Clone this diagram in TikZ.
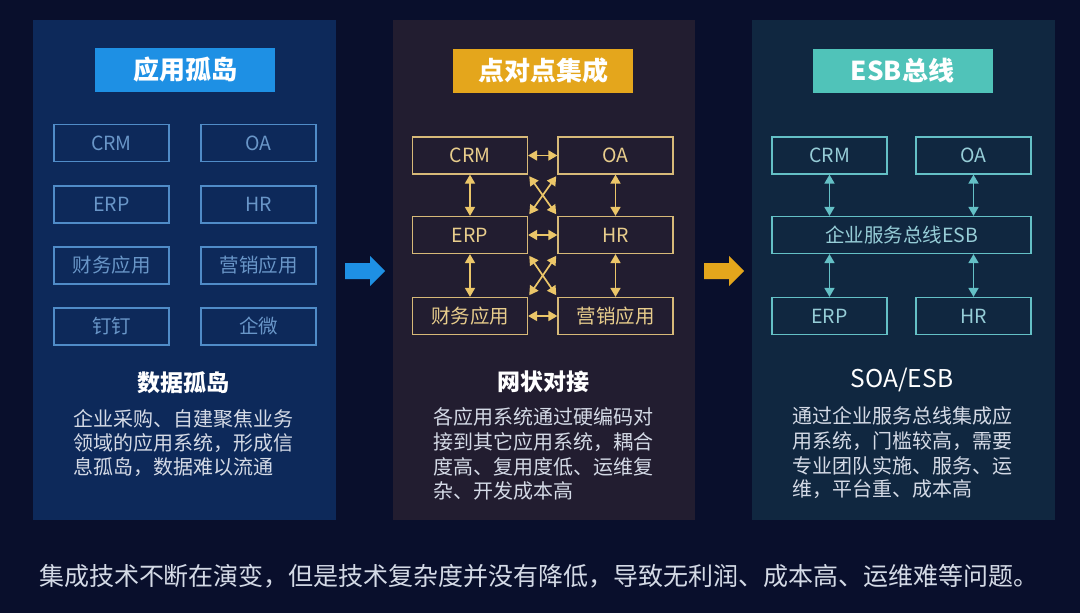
\documentclass[tikz,border=0pt]{standalone}
\usepackage{fontspec}
\setmainfont{Noto Sans CJK SC}
\usetikzlibrary{arrows.meta}
\definecolor{bg}{RGB}{9,15,44}
\definecolor{pone}{RGB}{13,41,90}
\definecolor{ptwo}{RGB}{34,29,48}
\definecolor{pthree}{RGB}{16,39,64}
\definecolor{tone}{RGB}{30,144,228}
\definecolor{ttwo}{RGB}{228,166,28}
\definecolor{tthree}{RGB}{80,195,185}
\definecolor{lone}{RGB}{80,140,200}
\definecolor{xone}{RGB}{105,150,200}
\definecolor{ltwo}{RGB}{215,185,120}
\definecolor{xtwo}{RGB}{232,205,140}
\definecolor{atwo}{RGB}{235,198,105}
\definecolor{lthree}{RGB}{100,192,198}
\definecolor{xthree}{RGB}{150,205,215}
\definecolor{para}{RGB}{212,218,230}
\begin{document}
\begin{tikzpicture}[x=1pt,y=-1pt,
  titlebox/.style={minimum width=180pt,minimum height=44pt,inner sep=0pt,text=white,font=\fontsize{26}{28}\selectfont\bfseries},
  appbox/.style={line width=1.2pt,minimum width=115pt,minimum height=37pt,inner sep=0pt,font=\fontsize{19.5}{21}\selectfont},
  appone/.style={appbox,draw=lone,text=xone},
  apptwo/.style={appbox,draw=ltwo,text=xtwo},
  appthree/.style={appbox,draw=lthree,text=xthree},
  subtitle/.style={text=white,font=\fontsize{23}{25}\selectfont\bfseries,inner sep=0pt},
  paraline/.style={text=para,anchor=west,inner sep=0pt,font=\fontsize{20}{22}\selectfont},
  dbl/.style={{Triangle[width=10pt,length=9pt]}-{Triangle[width=10pt,length=9pt]},line width=1.7pt}
]
\useasboundingbox (0,0) rectangle (1080,613);
\fill[bg] (0,0) rectangle (1080,613);
% panels
\fill[pone] (33,20) rectangle (336,520);
\fill[ptwo] (393,20) rectangle (695,520);
\fill[pthree] (752,20) rectangle (1055,520);
% title boxes
\node[titlebox,fill=tone] (t1) at (185,70) {应用孤岛};
\node[titlebox,fill=ttwo] (t2) at (543,71) {点对点集成};
\node[titlebox,fill=tthree] (t3) at (902.5,71) {ESB总线};
% panel 1 boxes
\node[appone] (a1) at (111.5,143) {CRM};
\node[appone] (a2) at (258.5,143) {OA};
\node[appone] (a3) at (111.5,204.5) {ERP};
\node[appone] (a4) at (258.5,204.5) {HR};
\node[appone] (a5) at (111.5,265.5) {财务应用};
\node[appone] (a6) at (258.5,265.5) {营销应用};
\node[appone] (a7) at (111.5,326.5) {钉钉};
\node[appone] (a8) at (258.5,326.5) {企微};
\node[subtitle] (s1) at (183,383) {数据孤岛};
\node[paraline] (p11) at (73,419) {企业采购、自建聚焦业务};
\node[paraline] (p12) at (73,443) {领域的应用系统，形成信};
\node[paraline] (p13) at (73,467) {息孤岛，数据难以流通};
% panel 2 boxes
\node[apptwo] (b1) at (470,155.5) {CRM};
\node[apptwo] (b2) at (615.5,155.5) {OA};
\node[apptwo] (b3) at (470,235) {ERP};
\node[apptwo] (b4) at (615.5,235) {HR};
\node[apptwo] (b5) at (470,316) {财务应用};
\node[apptwo] (b6) at (615.5,316) {营销应用};
\begin{scope}[draw=atwo,fill=atwo,dbl]
\draw (b1.east) -- (b2.west);
\draw (b3.east) -- (b4.west);
\draw (b5.east) -- (b6.west);
\draw (b1.south) -- (b3.north);
\draw (b3.south) -- (b5.north);
\draw (b2.south) -- (b4.north);
\draw (b4.south) -- (b6.north);
\draw[shorten <=2pt,shorten >=2pt] (b1.south east) -- (b4.north west);
\draw[shorten <=2pt,shorten >=2pt] (b2.south west) -- (b3.north east);
\draw[shorten <=2pt,shorten >=2pt] (b3.south east) -- (b6.north west);
\draw[shorten <=2pt,shorten >=2pt] (b4.south west) -- (b5.north east);
\end{scope}
\node[subtitle] (s2) at (543,382) {网状对接};
\node[paraline] (p21) at (433,417) {各应用系统通过硬编码对};
\node[paraline] (p22) at (433,442) {接到其它应用系统，耦合};
\node[paraline] (p23) at (433,467) {度高、复用度低、运维复};
\node[paraline] (p24) at (433,491) {杂、开发成本高};
% panel 3 boxes
\node[appthree] (c1) at (829.5,155.5) {CRM};
\node[appthree] (c2) at (973.5,155.5) {OA};
\node[appthree,minimum width=259pt] (c3) at (901.5,235) {企业服务总线ESB};
\node[appthree] (c4) at (829.5,316) {ERP};
\node[appthree] (c5) at (973.5,316) {HR};
\begin{scope}[draw=lthree,fill=lthree,dbl]
\draw (c1.south) -- (c1.south |- c3.north);
\draw (c2.south) -- (c2.south |- c3.north);
\draw (c4.north) -- (c4.north |- c3.south);
\draw (c5.north) -- (c5.north |- c3.south);
\end{scope}
\node[text=white,inner sep=0pt,font=\fontsize{24.5}{26}\selectfont] (s3) at (902,380) {SOA/ESB};
\node[paraline] (p31) at (792,416) {通过企业服务总线集成应};
\node[paraline] (p32) at (792,441) {用系统，门槛较高，需要};
\node[paraline] (p33) at (792,466) {专业团队实施、服务、运};
\node[paraline] (p34) at (792,489) {维，平台重、成本高};
% big arrows
\fill[tone] (345,263) -- (370,263) -- (370,256) -- (385,271) -- (370,286) -- (370,279) -- (345,279) -- cycle;
\fill[ttwo] (704,263) -- (729,263) -- (729,256) -- (744,271) -- (729,286) -- (729,279) -- (704,279) -- cycle;
% bottom text
\node[text=para,inner sep=0pt,font=\fontsize{25}{27}\selectfont] (bottom) at (539,576) {集成技术不断在演变，但是技术复杂度并没有降低，导致无利润、成本高、运维难等问题。};
\end{tikzpicture}
\end{document}
